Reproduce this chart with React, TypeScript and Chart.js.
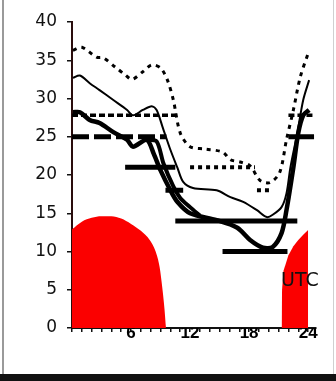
import { useEffect, useRef } from "react";
import { Chart, registerables } from "chart.js";

Chart.register(...registerables);

// ---- data (hours UTC, values) ----
const hourTicks = [0, 1, 2, 3, 4, 5, 6, 7, 8, 9, 10, 11, 12, 13, 14, 15, 16, 17, 18, 19, 20, 21, 22, 23, 24];
const labelledHours = [6, 12, 18, 24];

const dottedHours = [0.1, 1, 2.5, 3.2, 4.4, 5.4, 6.1, 7.2, 8.1, 9, 9.7, 10.3, 11, 12, 13.5, 15.3, 16.1, 17.1, 18.1, 19.1, 20.1, 21.1, 21.8, 22.5, 23.2, 24.0];
const dottedValues = [36.3, 36.7, 35.4, 35.3, 34.1, 33.1, 32.5, 33.5, 34.4, 34, 32.4, 29.8, 25.5, 23.7, 23.4, 23, 22, 21.7, 21.2, 19.3, 19, 20.3, 24.6, 28.5, 32.8, 35.9];

const thinHours = [0.1, 0.8, 1.8, 2.8, 4.2, 5.6, 6.2, 7.2, 8.1, 8.6, 9.2, 10, 10.7, 11.3, 12.3, 14.7, 16.1, 17.4, 18.8, 19.8, 20.4, 21.3, 21.8, 22.2, 22.9, 23.5, 24.1];
const thinValues = [32.7, 33, 32, 31.1, 29.8, 28.5, 27.8, 28.5, 29, 28.5, 26.3, 23.3, 21, 19.1, 18.3, 18, 17.1, 16.5, 15.4, 14.5, 14.8, 15.8, 17.6, 21, 25.5, 29.8, 32.4];

const thickHours = [0.1, 0.8, 1.8, 2.8, 4.2, 5.6, 6.2, 7.6, 8.3, 9, 10, 10.7, 12, 14.7, 16.8, 18.1, 19.4, 20.4, 21.3, 21.8, 22.5, 23, 23.5, 24.1];
const thickValues = [28.2, 28.2, 27.2, 26.8, 25.6, 24.6, 23.7, 24.6, 22.8, 20.6, 18, 16.5, 15, 14.1, 13.1, 11.5, 10.5, 10.6, 12.4, 15.4, 21, 25.5, 27.8, 28.5];

const thick2Hours = [7.6, 8.6, 9.3, 10.3, 11, 12, 13];
const thick2Values = [24.6, 24.4, 21.5, 18.5, 17, 15.8, 14.7];

const solidBarLevels = [25, 21, 18, 14, 10];
const solidBarFrom = [22, 5.4, 9.5, 10.5, 15.3];
const solidBarTo = [24.6, 10.5, 11.3, 22.9, 21.9];

const longDashBarLevels = [25];
const longDashBarFrom = [0];
const longDashBarTo = [9.6];

const shortDashBarLevels = [27.8, 27.8];
const shortDashBarFrom = [0, 22];
const shortDashBarTo = [10.7, 24.6];

const dottedBarLevels = [21, 18, 14];
const dottedBarFrom = [12, 18.8, 17.5];
const dottedBarTo = [18.6, 20.4, 21];

const morningHours = [0, 1, 2, 3, 4, 5, 6, 7, 7.9, 8.5, 8.9, 9.2, 9.4, 9.55];
const morningValues = [12.9, 13.9, 14.4, 14.6, 14.6, 14.3, 13.6, 12.7, 11.5, 10, 8, 5, 2.5, 0];
const eveningHours = [21.3, 21.35, 21.5, 22, 22.5, 23, 23.5, 24];
const eveningValues = [0, 5, 7.5, 9.5, 10.7, 11.5, 12.2, 12.8];

const pts = (xs: number[], ys: number[]) => xs.map((x, i) => ({ x, y: ys[i] }));
const segs = (levels: number[], from: number[], to: number[]) =>
  levels.flatMap((l, i) => [
    { x: from[i], y: l },
    { x: to[i], y: l },
    { x: to[i], y: null as any },
  ]);

export default function App() {
  const ref = useRef<HTMLCanvasElement>(null);

  useEffect(() => {
    if (!ref.current) return;
    const base = { pointRadius: 0, borderColor: "#000", fill: false, clip: false as any, spanGaps: false };
    const chart = new Chart(ref.current, {
      type: "line",
      data: {
        datasets: [
          { ...base, data: pts(thickHours, thickValues), borderWidth: 4.5, tension: 0.3 },
          { ...base, data: pts(thick2Hours, thick2Values), borderWidth: 4, tension: 0.3 },
          { ...base, data: pts(thinHours, thinValues), borderWidth: 2, tension: 0.3 },
          { ...base, data: pts(dottedHours, dottedValues), borderWidth: 3, borderDash: [4, 5], tension: 0.3 },
          { ...base, data: segs(solidBarLevels, solidBarFrom, solidBarTo), borderWidth: 5 },
          { ...base, data: segs(longDashBarLevels, longDashBarFrom, longDashBarTo), borderWidth: 5, borderDash: [17, 5] },
          { ...base, data: segs(shortDashBarLevels, shortDashBarFrom, shortDashBarTo), borderWidth: 3.5, borderDash: [6, 3] },
          { ...base, data: segs(dottedBarLevels, dottedBarFrom, dottedBarTo), borderWidth: 4, borderDash: [4, 4] },
          {
            data: pts(morningHours, morningValues),
            pointRadius: 0, borderWidth: 0, borderColor: "#fb0000", backgroundColor: "#fb0000",
            fill: "origin", cubicInterpolationMode: "monotone", order: 10,
          },
          {
            data: pts(eveningHours, eveningValues),
            pointRadius: 0, borderWidth: 0, borderColor: "#fb0000", backgroundColor: "#fb0000",
            fill: "origin", order: 10,
          },
        ] as any,
      },
      options: {
        animation: false,
        responsive: false,
        devicePixelRatio: 1,
        layout: { padding: { top: 22, right: 20, left: 0, bottom: 0 } },
        plugins: { legend: { display: false }, tooltip: { enabled: false } },
        scales: {
          x: {
            type: "linear",
            min: 0,
            max: 24.8,
            afterFit: (s: any) => { s.height = 46; },
            afterBuildTicks: (s: any) => { s.ticks = hourTicks.map((v) => ({ value: v })); },
            border: { display: true, color: "#111", width: 2 },
            grid: { display: true, drawOnChartArea: false, drawTicks: true, tickLength: 4, color: "#111", lineWidth: 1.5 },
            ticks: {
              autoSkip: false,
              maxRotation: 0,
              padding: -9,
              color: "#000",
              font: { family: "Liberation Sans", size: 17, weight: "bold" },
              callback: (v: any) => (labelledHours.includes(Number(v)) ? String(v) : ""),
            },
          },
          y: {
            min: 0,
            max: 40,
            afterFit: (s: any) => { s.width = 72; },
            border: { display: true, color: "#2a0d0d", width: 2 },
            grid: { display: true, drawOnChartArea: false, drawTicks: true, tickLength: 5, color: "#111", lineWidth: 1.5 },
            ticks: {
              stepSize: 5,
              padding: 10,
              color: "#111",
              font: { family: "DejaVu Sans", size: 17 },
            },
          },
        },
      },
    });
    return () => chart.destroy();
  }, []);

  return (
    <div style={{ position: "fixed", left: 0, top: 0, width: 336, height: 381, background: "#fff", overflow: "hidden" }}>
      <canvas ref={ref} width={336} height={374} style={{ position: "absolute", left: 0, top: 0, width: 336, height: 374 }} />
      <div style={{ position: "absolute", left: 2, top: 0, width: 2, height: 374, background: "#9a9a9a" }} />
      <div style={{ position: "absolute", left: 333, top: 0, width: 1, height: 374, background: "#d0d0d0" }} />
      <div style={{ position: "absolute", left: 0, top: 374, width: 336, height: 7, background: "#111" }} />
      <div style={{ position: "absolute", left: 281, top: 267, fontFamily: "DejaVu Sans", fontSize: 19, color: "#111", lineHeight: "24px" }}>UTC</div>
    </div>
  );
}
